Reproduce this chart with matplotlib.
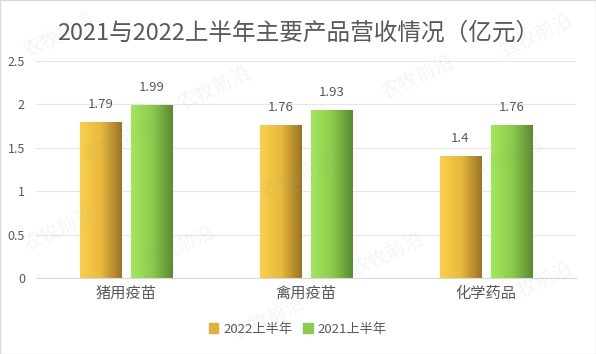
import matplotlib
matplotlib.use('Agg')
import matplotlib.pyplot as plt
from matplotlib.colors import LinearSegmentedColormap
import numpy as np

plt.rcParams['font.family'] = ['Noto Sans CJK SC', 'DejaVu Sans']

categories = ['猪用疫苗', '禽用疫苗', '化学药品']
series_names = ['2022上半年', '2021上半年']
values_2022 = [1.79, 1.76, 1.4]
values_2021 = [1.99, 1.93, 1.76]

text_color = '#595959'
yellow_cmap = LinearSegmentedColormap.from_list('y', ['#fbcf4c', '#e9b93e', '#9b7424'])
green_cmap = LinearSegmentedColormap.from_list('g', ['#a4e65c', '#8ccc4c', '#5b8a33'])

fig = plt.figure(figsize=(5.96, 3.54), dpi=100)
ax = fig.add_axes([36 / 596, 1 - 278 / 354, 540 / 596, 217 / 354])

x = np.arange(len(categories))
width = 0.228
offset = 0.143
grad = np.linspace(0, 1, 64).reshape(1, -1)

for vals, off, cmap, name in [(values_2022, -offset, yellow_cmap, series_names[0]),
                              (values_2021, offset, green_cmap, series_names[1])]:
    bars = ax.bar(x + off, vals, width, color='none', label=name, zorder=2)
    for b, v in zip(bars, vals):
        x0 = b.get_x()
        ax.imshow(grad, cmap=cmap, aspect='auto', zorder=2,
                  extent=[x0, x0 + width, 0, v], interpolation='bicubic')
        ax.text(x0 + width / 2, v + 0.13, f'{v:g}', ha='center', va='bottom',
                fontsize=9.5, color=text_color, zorder=3)

ax.set_xlim(-0.5, 2.5)
ax.set_ylim(0, 2.5)
ax.set_yticks([0, 0.5, 1, 1.5, 2, 2.5])
ax.set_yticklabels(['0', '0.5', '1', '1.5', '2', '2.5'])
ax.set_xticks(x)
ax.set_xticklabels(categories)
ax.tick_params(axis='y', length=0, labelsize=9, colors=text_color, pad=8)
ax.tick_params(axis='x', length=0, labelsize=11, colors=text_color, pad=5)
ax.grid(axis='y', color='#e6e6e6', linewidth=0.8, zorder=0)
ax.set_axisbelow(True)
for s in ['top', 'right', 'left']:
    ax.spines[s].set_visible(False)
ax.spines['bottom'].set_color('#d9d9d9')

# watermark
for wx, wy in [(0.1, 0.9), (0.36, 0.75), (0.7, 0.78), (0.9, 0.9),
               (0.2, 0.6), (0.5, 0.5), (0.85, 0.55), (0.1, 0.35),
               (0.3, 0.3), (0.65, 0.28), (0.9, 0.2), (0.45, 0.1)]:
    fig.text(wx, wy, '农牧前沿', fontsize=14, color='#7fb08a', alpha=0.1,
             rotation=25, ha='center', va='center', fontstyle='italic')

fig.text(0.5, 1 - 33 / 354, '2021与2022上半年主要产品营收情况（亿元）', ha='center', va='center',
         fontsize=17, color=text_color)

handles = [plt.Rectangle((0, 0), 1, 1, color='#e0b13e'), plt.Rectangle((0, 0), 1, 1, color='#8ccc4c')]
fig.legend(handles, series_names, loc='center', bbox_to_anchor=(0.5, 1 - 329 / 354), ncol=2,
           frameon=False, fontsize=9.5, labelcolor=text_color, handlelength=0.7, handleheight=0.7,
           handletextpad=0.4, columnspacing=0.8)

fig.patches.append(plt.Rectangle((0, 0), 1, 1, transform=fig.transFigure, fill=False,
                                 edgecolor='#d9d9d9', linewidth=1))

fig.savefig('out.png', dpi=100)
